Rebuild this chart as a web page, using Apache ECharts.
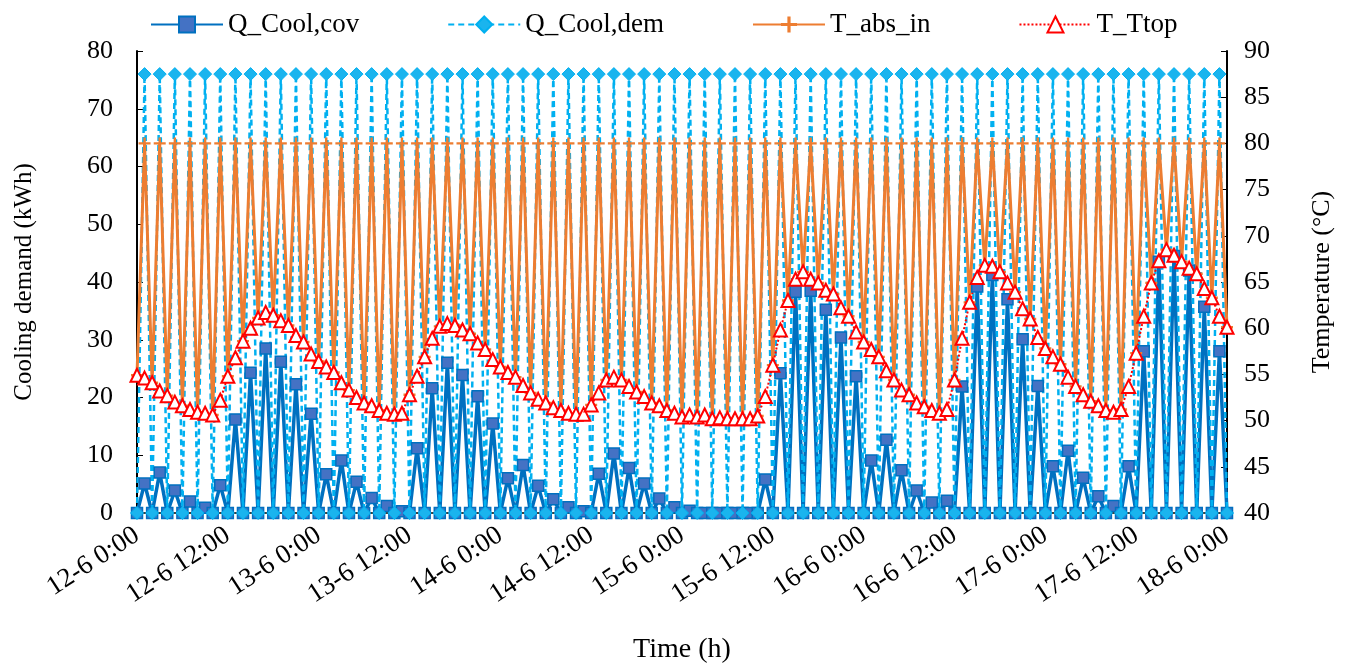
<!DOCTYPE html>
<html>
<head>
<meta charset="utf-8">
<script src="https://cdn.jsdelivr.net/npm/echarts@6/dist/echarts.min.js"></script>
<style>
  html, body { margin: 0; padding: 0; background: #fff; }
  #chart { width: 1349px; height: 667px; }
</style>
</head>
<body>
<div id="chart"></div>
<script>
var dom = document.getElementById("chart");
var coolChart = echarts.init(dom);

var seriesNames = ["Q_Cool,cov", "Q_Cool,dem", "T_abs_in", "T_Ttop"];

// hourly points, 12-6 0:00 .. 18-6 0:00
var days = [12, 13, 14, 15, 16, 17, 18];

var qCoolCov = [
    0, 5.1, 0, 7.0, 0, 3.9, 0, 2.0, 0, 0.9,
    0, 4.8, 0, 16.2, 0, 24.3, 0, 28.5, 0, 26.2,
    0, 22.3, 0, 17.2, 0, 6.7, 0, 9.1, 0, 5.4,
    0, 2.6, 0, 1.2, 0, 0.3, 0, 11.2, 0, 21.6,
    0, 26.0, 0, 23.9, 0, 20.2, 0, 15.5, 0, 6.0,
    0, 8.3, 0, 4.7, 0, 2.4, 0, 1.0, 0, 0.3,
    0, 6.8, 0, 10.3, 0, 7.8, 0, 5.1, 0, 2.5,
    0, 1.0, 0, 0.4, 0, 0, 0, 0, 0, 0,
    0, 0, 0, 5.8, 0, 24.2, 0, 38.3, 0, 38.5,
    0, 35.2, 0, 30.4, 0, 23.7, 0, 9.1, 0, 12.7,
    0, 7.4, 0, 3.9, 0, 1.8, 0, 2.1, 0, 21.9,
    0, 39.2, 0, 41.2, 0, 37.0, 0, 30.1, 0, 22.0,
    0, 8.1, 0, 10.8, 0, 6.1, 0, 2.9, 0, 1.2,
    0, 8.1, 0, 28.0, 0, 43.5, 0, 44.5, 0, 42.0,
    0, 35.7, 0, 28.0, 0
];

var qCoolDem = [
    0, 76, 0, 76, 0, 76, 0, 76, 0, 76,
    0, 76, 0, 76, 0, 76, 0, 76, 0, 76,
    0, 76, 0, 76, 0, 76, 0, 76, 0, 76,
    0, 76, 0, 76, 0, 76, 0, 76, 0, 76,
    0, 76, 0, 76, 0, 76, 0, 76, 0, 76,
    0, 76, 0, 76, 0, 76, 0, 76, 0, 76,
    0, 76, 0, 76, 0, 76, 0, 76, 0, 76,
    0, 76, 0, 76, 0, 76, 0, 76, 0, 76,
    0, 76, 0, 76, 0, 76, 0, 76, 0, 76,
    0, 76, 0, 76, 0, 76, 0, 76, 0, 76,
    0, 76, 0, 76, 0, 76, 0, 76, 0, 76,
    0, 76, 0, 76, 0, 76, 0, 76, 0, 76,
    0, 76, 0, 76, 0, 76, 0, 76, 0, 76,
    0, 76, 0, 76, 0, 76, 0, 76, 0, 76,
    0, 76, 0, 76, 0
];

var tAbsIn = [
    54.9, 80, 54.1, 80, 52.7, 80, 51.6, 80, 50.9, 80,
    50.6, 80, 54.8, 80, 58.6, 80, 61.1, 80, 61.4, 80,
    60.3, 80, 58.5, 80, 56.4, 80, 55.2, 80, 53.3, 80,
    51.9, 80, 51.1, 80, 50.7, 80, 52.8, 80, 56.9, 80,
    60.2, 80, 60.3, 80, 59.4, 80, 57.7, 80, 55.8, 80,
    54.7, 80, 53.0, 80, 51.9, 80, 51.1, 80, 50.7, 80,
    51.7, 80, 54.4, 80, 54.4, 80, 53.1, 80, 51.9, 80,
    51.1, 80, 50.4, 80, 50.4, 80, 50.2, 80, 50.2, 80,
    50.2, 80, 50.5, 80, 56.0, 80, 63.0, 80, 66.1, 80,
    64.9, 80, 63.7, 80, 61.3, 80, 58.5, 80, 56.9, 80,
    54.4, 80, 52.8, 80, 51.5, 80, 50.8, 80, 54.4, 80,
    62.8, 80, 66.8, 80, 66.1, 80, 63.9, 80, 61.0, 80,
    57.8, 80, 56.1, 80, 53.7, 80, 52.1, 80, 51.1, 80,
    51.2, 80, 57.3, 80, 64.9, 80, 68.5, 80, 67.2, 80,
    65.9, 80, 63.3, 80, 60.1
];

var tTtop = [
    54.9, 54.6, 54.1, 53.2, 52.7, 52.0, 51.6, 51.2, 50.9, 50.8,
    50.6, 52.2, 54.8, 56.8, 58.6, 60.0, 61.1, 61.7, 61.4, 60.8,
    60.3, 59.2, 58.5, 57.2, 56.4, 55.8, 55.2, 54.1, 53.3, 52.5,
    51.9, 51.6, 51.1, 50.8, 50.7, 50.8, 52.8, 54.8, 56.9, 58.9,
    60.2, 60.5, 60.3, 59.8, 59.4, 58.4, 57.7, 56.6, 55.8, 55.2,
    54.7, 53.8, 53.0, 52.3, 51.9, 51.4, 51.1, 50.8, 50.7, 50.7,
    51.7, 53.0, 54.4, 54.7, 54.4, 53.7, 53.1, 52.6, 51.9, 51.6,
    51.1, 50.8, 50.4, 50.6, 50.4, 50.6, 50.2, 50.3, 50.2, 50.2,
    50.2, 50.2, 50.5, 52.6, 56.0, 59.8, 63.0, 65.3, 66.1, 65.3,
    64.9, 64.1, 63.7, 62.2, 61.3, 59.6, 58.5, 57.7, 56.9, 55.4,
    54.4, 53.3, 52.8, 51.9, 51.5, 51.1, 50.8, 51.2, 54.4, 58.9,
    62.8, 65.5, 66.8, 66.7, 66.1, 64.9, 63.9, 62.1, 61.0, 59.0,
    57.8, 56.9, 56.1, 54.7, 53.7, 52.8, 52.1, 51.6, 51.1, 50.9,
    51.2, 53.7, 57.3, 61.3, 64.9, 67.3, 68.5, 67.9, 67.2, 66.5,
    65.9, 64.3, 63.3, 61.3, 60.1
];

// category labels "d-6 h:00"
var hours = [];
for (let i = 0; i < qCoolCov.length; i++) {
    hours.push(days[Math.floor(i / 24)] + "-6 " + (i % 24) + ":00");
}

var serif = "Liberation Serif";
var plusPath = "path://M4,0h2v4h4v2h-4v4h-2v-4h-4v-2h4z";

option = {
    animation: false,
    textStyle: { fontFamily: serif, color: "#000" },
    legend: {
        left: 145,
        top: 6,
        itemWidth: 72,
        itemHeight: 20,
        itemGap: 88,
        textStyle: { fontFamily: serif, fontSize: 27, color: "#000" },
        data: seriesNames
    },
    grid: {
        left: 137,
        right: 122,
        top: 51,
        bottom: 154,
        outerBoundsMode: "none"
    },
    xAxis: {
        type: "category",
        data: hours,
        boundaryGap: false,
        name: "Time (h)",
        nameLocation: "middle",
        nameGap: 123,
        nameTextStyle: { fontFamily: serif, fontSize: 28, color: "#000" },
        axisLine: { lineStyle: { color: "#000", width: 1.5 } },
        axisTick: { show: true, inside: true, interval: 11, length: 5, lineStyle: { color: "#000" } },
        axisLabel: {
            interval: 11,
            rotate: 33,
            margin: 20,
            fontFamily: serif,
            fontSize: 27,
            color: "#000"
        },
        splitLine: { show: false }
    },
    yAxis: [
        {
            type: "value",
            min: 0,
            max: 80,
            interval: 10,
            name: "Cooling demand (kWh)",
            nameLocation: "middle",
            nameGap: 100,
            nameTextStyle: { fontFamily: serif, fontSize: 25, color: "#000" },
            axisLine: { show: true, lineStyle: { color: "#000", width: 2 } },
            axisTick: { show: true, inside: true, length: 6, lineStyle: { color: "#000" } },
            axisLabel: { margin: 24, fontFamily: serif, fontSize: 26, color: "#000" },
            splitLine: { show: false }
        },
        {
            type: "value",
            min: 40,
            max: 90,
            interval: 5,
            name: "Temperature (°C)",
            nameLocation: "middle",
            nameGap: 82,
            nameTextStyle: { fontFamily: serif, fontSize: 26, color: "#000" },
            axisLine: { show: true, lineStyle: { color: "#000", width: 2 } },
            axisTick: { show: true, inside: true, length: 6, lineStyle: { color: "#000" } },
            axisLabel: { margin: 17, fontFamily: serif, fontSize: 26, color: "#000" },
            splitLine: { show: false }
        }
    ],
    series: [
        {
            name: seriesNames[0],
            type: "line",
            yAxisIndex: 0,
            data: qCoolCov,
            symbol: "rect",
            symbolSize: 11,
            showAllSymbol: true,
            lineStyle: { color: "#0070C0", width: 3.5 },
            itemStyle: { color: "#4472C4", borderColor: "#0070C0", borderWidth: 1.5 }
        },
        {
            name: seriesNames[1],
            type: "line",
            yAxisIndex: 0,
            data: qCoolDem,
            symbol: "diamond",
            symbolSize: 13,
            showAllSymbol: true,
            lineStyle: { color: "#00B0F0", width: 2.5, type: [6, 4] },
            itemStyle: { color: "#1AB4EE", borderColor: "#00B0F0", borderWidth: 1 }
        },
        {
            name: seriesNames[2],
            type: "line",
            yAxisIndex: 1,
            data: tAbsIn,
            symbol: plusPath,
            symbolSize: 12,
            showAllSymbol: true,
            lineStyle: { color: "#ED7D31", width: 3 },
            itemStyle: { color: "#ED7D31" }
        },
        {
            name: seriesNames[3],
            type: "line",
            yAxisIndex: 1,
            data: tTtop,
            symbol: "triangle",
            symbolSize: 13,
            showAllSymbol: true,
            lineStyle: { color: "#FF0000", width: 2, type: "dotted" },
            itemStyle: { color: "#FFFFFF", borderColor: "#FF0000", borderWidth: 2 }
        }
    ]
};

if (option && typeof option === "object") {
    coolChart.setOption(option, true);
}
</script>
</body>
</html>
